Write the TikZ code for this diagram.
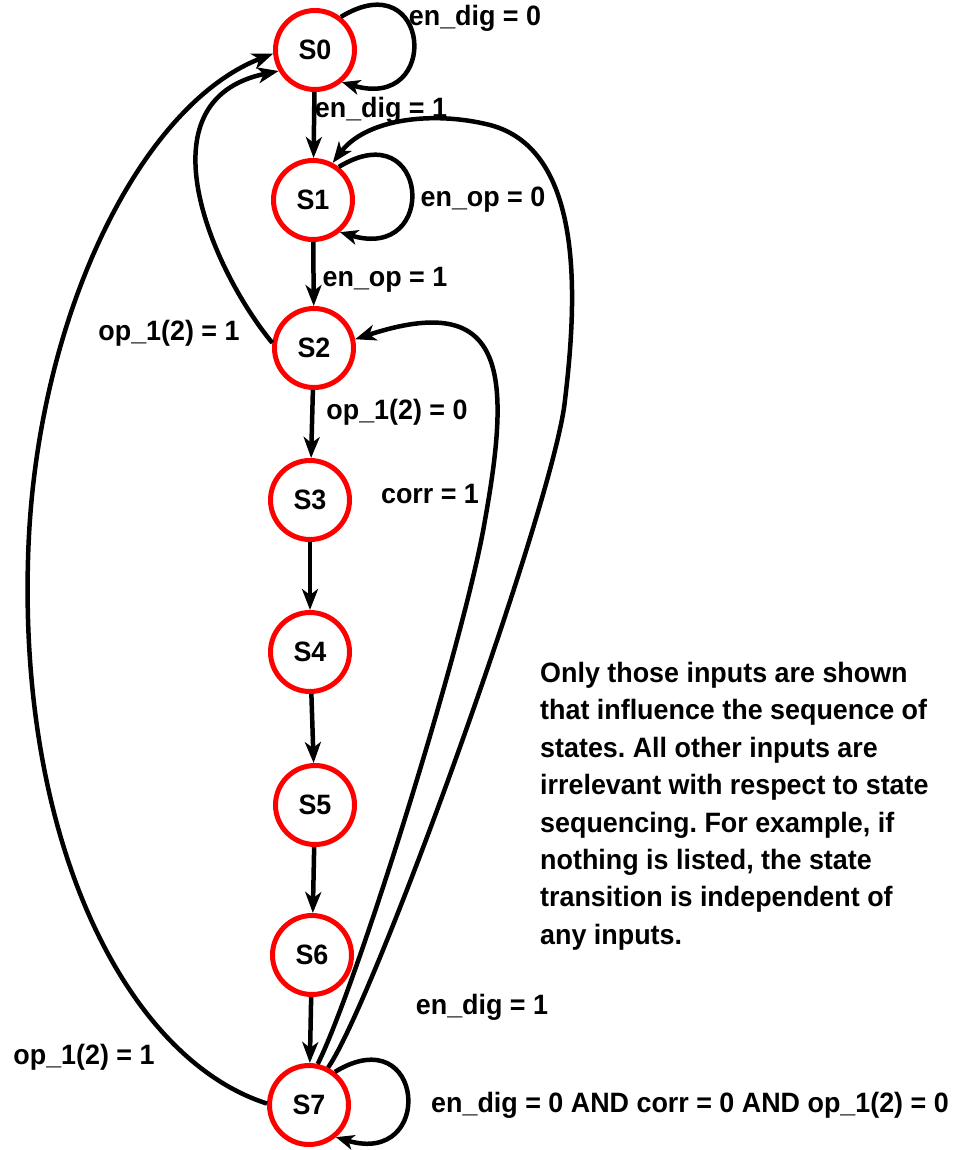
\documentclass[tikz,border=0pt]{standalone}
\usepackage{fontspec}
\setmainfont[FakeStretch=0.96]{Liberation Sans}
\usetikzlibrary{arrows.meta}
\frenchspacing
\begin{document}
\begin{tikzpicture}[x=1pt,y=-1pt,
  state/.style={circle,draw=red,line width=5pt,minimum size=79pt,inner sep=0pt,
    font=\bfseries\fontsize{28}{32}\selectfont},
  lbl/.style={font=\bfseries\fontsize{28}{32}\selectfont,inner sep=0pt},
  conn/.style={line width=4.5pt,-{Stealth[length=21pt,width=16pt,inset=6pt]}},
  loopc/.style={line width=4.5pt,-{Stealth[length=18pt,width=15pt,inset=5pt]}}]
\useasboundingbox (0,0) rectangle (969,1150);
\node[state] (S0) at (315,50) {S0};
\node[state] (S1) at (313,200) {S1};
\node[state] (S2) at (314,348) {S2};
\node[state] (S3) at (310,500) {S3};
\node[state] (S4) at (310,652) {S4};
\node[state] (S5) at (315,805) {S5};
\node[state] (S6) at (312,955) {S6};
\node[state] (S7) at (309,1105) {S7};
% straight transitions
\draw[conn] (S0) -- (S1);
\draw[conn] (S1) -- (S2);
\draw[conn] (S2) -- (S3);
\draw[conn] (S3) -- (S4);
\draw[conn] (S4) -- (S5);
\draw[conn] (S5) -- (S6);
\draw[conn] (S6) -- (S7);
% self loops
\draw[loopc] (S0.52) .. controls +(90,-55) and +(100,30) .. (S0.-50);
\draw[loopc] (S1.52) .. controls +(90,-55) and +(100,30) .. (S1.-50);
\draw[loopc] (S7.52) .. controls +(90,-55) and +(100,30) .. (S7.-50);
% S2 -> S0
\draw[conn] (S2.173) .. controls (212,270) and (138,100) .. (S0.210);
% S7 -> S0
\draw[conn] (S7.178) .. controls (130,1060) and (20,850) .. (28,560)
  .. controls (34,320) and (140,105) .. (S0.185);
% S7 -> S2
\draw[conn] (S7.78) .. controls (355,990) and (465,640) .. (485,520)
  .. controls (512,370) and (505,290) .. (S2.12);
% S7 -> S1
\draw[conn] (S7.63) .. controls (375,1000) and (555,500) .. (565,400)
  .. controls (577,300) and (585,150) .. (490,125)
  .. controls (430,110) and (365,120) .. (S1.62);
% labels
\node[lbl] (l0) at (475,18) {en\_dig = 0};
\node[lbl] (l1) at (381,110) {en\_dig = 1};
\node[lbl] (l2) at (483,200) {en\_op = 0};
\node[lbl] (l3) at (385,280) {en\_op = 1};
\node[lbl] (l4) at (169,333) {op\_1(2) = 1};
\node[lbl] (l5) at (397,412) {op\_1(2) = 0};
\node[lbl] (l6) at (430,494) {corr = 1};
\node[lbl] (l7) at (482,1007) {en\_dig = 1};
\node[lbl] (l8) at (84,1057) {op\_1(2) = 1};
\node[lbl] (l9) at (690,1105) {en\_dig = 0 AND corr = 0 AND op\_1(2) = 0};
\node[lbl,anchor=north west,align=left,font=\bfseries\fontsize{28}{37.4}\selectfont] (note) at (540,662)
  {Only those inputs are shown\\that influence the sequence of\\states. All other inputs are\\irrelevant with respect to state\\sequencing. For example, if\\nothing is listed, the state\\transition is independent of\\any inputs.};
\end{tikzpicture}
\end{document}
